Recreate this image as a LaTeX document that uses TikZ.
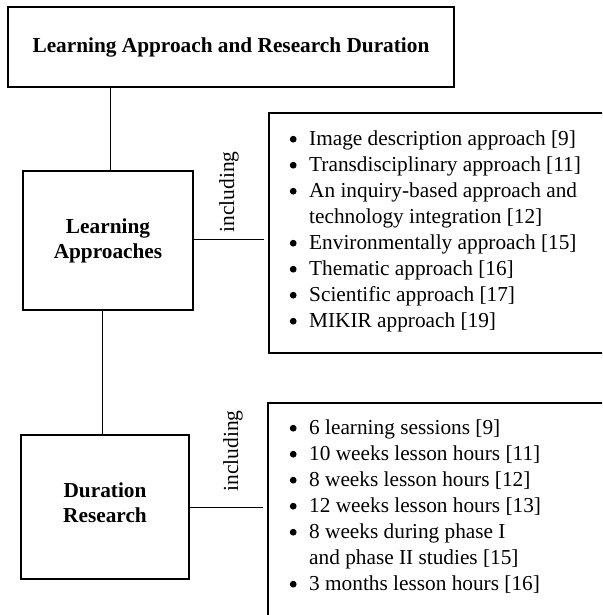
\documentclass[tikz,border=0pt]{standalone}
\usepackage{fontspec}
\setmainfont{Liberation Serif}
\newcommand\mybul{\raisebox{2.4pt}{\tikz\fill[black] (0,0) circle (3.4pt);}}
\begin{document}
\begin{tikzpicture}[x=1pt,y=-1pt,
  box/.style={draw=black,line width=1.3pt,inner sep=0pt,align=center,font=\fontsize{21.3}{25}\selectfont\bfseries},
  listbox/.style={draw=black,line width=1.3pt,inner sep=0pt},
  listtext/.style={inner sep=0pt,anchor=base west,font=\fontsize{21.3}{26}\selectfont},
  conn/.style={line width=1pt,black},
  incl/.style={rotate=90,inner sep=0pt,font=\fontsize{21.5}{24}\selectfont}]
\useasboundingbox (0,0) rectangle (602,615);
\clip (0,0) rectangle (602,615);
% main boxes
\node[box,minimum width=446pt,minimum height=80pt] (top) at (231,47) {Learning Approach and Research Duration};
\node[box,minimum width=170pt,minimum height=139pt] (la) at (108,240.5) {Learning\\Approaches};
\node[box,minimum width=168pt,minimum height=144pt] (dur) at (105,507) {Duration\\Research\\[-16pt]\mbox{}};
% list boxes (clipped on the right)
\node[listbox,minimum width=351pt,minimum height=240pt] (b1) at (444.5,233) {};
\node[listbox,minimum width=352pt,minimum height=240pt] (b2) at (444,523) {};
% list texts
\node[listtext] (t1) at (289.6,145) {\begin{tabular}[t]{@{}l@{\hspace{12.6pt}}l@{}}
\mybul & Image description approach [9]\\
\mybul & Transdisciplinary approach [11]\\
\mybul & An inquiry-based approach and\\
 & technology integration [12]\\
\mybul & Environmentally approach [15]\\
\mybul & Thematic approach [16]\\
\mybul & Scientific approach [17]\\
\mybul & MIKIR approach [19]
\end{tabular}};
\node[listtext] (t2) at (289.6,434) {\begin{tabular}[t]{@{}l@{\hspace{12.6pt}}l@{}}
\mybul & 6 learning sessions [9]\\
\mybul & 10 weeks lesson hours [11]\\
\mybul & 8 weeks lesson hours [12]\\
\mybul & 12 weeks lesson hours [13]\\
\mybul & 8 weeks during phase I\\
 & and phase II studies [15]\\
\mybul & 3 months lesson hours [16]
\end{tabular}};
% including labels
\node[incl] (i1) at (229,192) {including};
\node[incl] (i2) at (233,451) {including};
% connectors
\draw[conn] ([xshift=2pt]la.north) -- ([xshift=2pt]la.north |- top.south);
\draw[conn] ([xshift=-3pt]dur.north) -- ([xshift=-3pt]dur.north |- la.south);
\draw[conn] ([yshift=1.5pt]la.east) -- ([yshift=1.5pt,xshift=-4pt]la.east -| b1.west);
\draw[conn] (dur.east) -- ([xshift=-4pt]dur.east -| b2.west);
\end{tikzpicture}
\end{document}
